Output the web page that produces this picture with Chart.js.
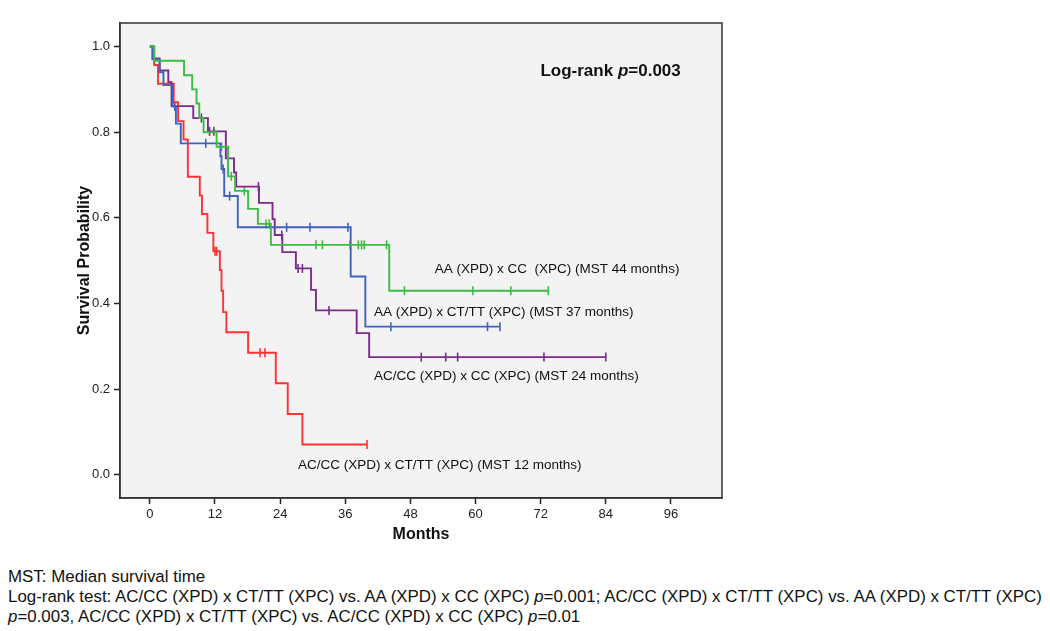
<!DOCTYPE html>
<html>
<head>
<meta charset="utf-8">
<script src="https://cdn.jsdelivr.net/npm/chart.js@4.4.1/dist/chart.umd.min.js"></script>
<style>
  body { margin: 0; background: #fff; }
  #wrap { position: relative; width: 1050px; height: 631px; }
  #box { position: absolute; left: 0; top: 0; width: 1050px; height: 560px; }
  .note { position: absolute; left: 8px; font-family: 'Liberation Sans Narrow', 'Arial Narrow', 'Liberation Sans', Arial, sans-serif; font-size: 16.9px; color: #111; white-space: nowrap; }
</style>
</head>
<body>
<div id="wrap">
  <div id="box"><canvas id="km"></canvas></div>
  <div class="note" style="top:567px">MST: Median survival time</div>
  <div class="note" style="top:587px">Log-rank test: AC/CC (XPD) x CT/TT (XPC) vs. AA (XPD) x CC (XPC) <i>p</i>=0.001; AC/CC (XPD) x CT/TT (XPC) vs. AA (XPD) x CT/TT (XPC)</div>
  <div class="note" style="top:607px"><i>p</i>=0.003, AC/CC (XPD) x CT/TT (XPC) vs. AC/CC (XPD) x CC (XPC) <i>p</i>=0.01</div>
</div>
<script>
// curvas Kaplan-Meier (meses, supervivencia)
const xTicks = [0, 12, 24, 36, 48, 60, 72, 84, 96];
const yTicks = [0, 0.2, 0.4, 0.6, 0.8, 1.0];

const greenT = [0, 0.8, 6.3, 7.8, 8.6, 9.1, 9.9, 12.3, 14.4, 15.7, 18.1, 19.9, 22.3, 44.1, 73.4];
const greenS = [1, 0.967, 0.933, 0.9, 0.867, 0.833, 0.80, 0.766, 0.697, 0.663, 0.621, 0.586, 0.537, 0.43, 0.43];
const greenCens = [13.2, 15.0, 17.4, 21.4, 22.0, 30.6, 31.8, 36.9, 38.4, 39.0, 39.5, 43.6, 46.9, 59.5, 66.5, 73.4];

const blueT = [0, 0.5, 1.8, 2.5, 4.2, 4.8, 5.7, 13.0, 13.2, 13.7, 16.2, 37.0, 39.7, 64.5];
const blueS = [1, 0.97, 0.94, 0.91, 0.86, 0.82, 0.774, 0.744, 0.714, 0.651, 0.578, 0.463, 0.346, 0.346];
const blueCens = [4.6, 10.3, 13.5, 14.7, 25.2, 29.5, 36.5, 44.4, 62.2, 64.5];

const purpleT = [0, 0.5, 1.8, 3.4, 4.0, 8.0, 10.7, 14.0, 15.5, 15.9, 20.1, 22.6, 23.0, 24.4, 26.9, 29.7, 30.6, 38.1, 40.4, 84];
const purpleS = [1, 0.972, 0.944, 0.917, 0.861, 0.833, 0.802, 0.739, 0.706, 0.673, 0.635, 0.597, 0.56, 0.52, 0.482, 0.432, 0.384, 0.331, 0.275, 0.275];
const purpleCens = [9.5, 11.0, 11.8, 20.0, 24.3, 27.3, 28.1, 33.0, 50.0, 54.5, 56.7, 72.6, 84];

const redT = [0, 0.8, 1.5, 4.4, 5.2, 6.2, 7.0, 9.2, 9.6, 10.6, 11.7, 12.9, 13.2, 13.5, 14.1, 18.1, 23.2, 25.4, 28.1, 40];
const redS = [1, 0.957, 0.913, 0.87, 0.826, 0.783, 0.696, 0.652, 0.609, 0.565, 0.522, 0.478, 0.43, 0.38, 0.333, 0.285, 0.214, 0.142, 0.071, 0.071];
const redCens = [12.0, 12.3, 20.3, 21.2, 40];

const curveLabels = [
  { text: 'AA (XPD) x CC  (XPC) (MST 44 months)', x: 52.5, y: 0.481 },
  { text: 'AA (XPD) x CT/TT (XPC) (MST 37 months)', x: 41.3, y: 0.380 },
  { text: 'AC/CC (XPD) x CC (XPC) (MST 24 months)', x: 41.3, y: 0.231 },
  { text: 'AC/CC (XPD) x CT/TT (XPC) (MST 12 months)', x: 27.3, y: 0.023 }
];

const FONT = "Arial, 'Liberation Sans', sans-serif";

function valorEn(T, S, t) {
  let v = S[0];
  for (let i = 0; i < T.length; i++) if (T[i] <= t) v = S[i];
  return v;
}

function curva(T, S, color) {
  return {
    data: T.map((t, i) => ({ x: t, y: S[i] })),
    borderColor: color, borderWidth: 1.9, stepped: 'before',
    pointRadius: 0, fill: false
  };
}

function censuras(T, S, C, color) {
  return {
    data: C.map(t => ({ x: t, y: valorEn(T, S, t) })),
    showLine: false, borderColor: color, backgroundColor: color,
    pointStyle: 'line', rotation: 90, pointRadius: 4.5, borderWidth: 1.6
  };
}

const fondo = {
  id: 'fondo',
  beforeDraw(chart) {
    const { ctx, chartArea: a } = chart;
    ctx.save();
    ctx.fillStyle = '#f3f3f3';
    ctx.fillRect(a.left, a.top, a.right - a.left, a.bottom - a.top);
    ctx.restore();
  },
  afterDraw(chart) {
    const { ctx, chartArea: a, scales } = chart;
    ctx.save();
    ctx.strokeStyle = '#333';
    ctx.lineWidth = 1.5;
    ctx.strokeRect(a.left, a.top, a.right - a.left, a.bottom - a.top);

    ctx.fillStyle = '#111';
    ctx.textBaseline = 'middle';
    ctx.font = '13.5px ' + FONT;
    ctx.textAlign = 'left';
    curveLabels.forEach(l => {
      ctx.fillText(l.text, scales.x.getPixelForValue(l.x), scales.y.getPixelForValue(l.y));
    });

    // Log-rank p
    ctx.font = 'bold 17px ' + FONT;
    const px = scales.x.getPixelForValue(97.8), py = scales.y.getPixelForValue(0.943);
    const t3 = '=0.003';
    const w3 = ctx.measureText(t3).width;
    ctx.textAlign = 'right';
    ctx.fillText(t3, px, py);
    ctx.font = 'italic bold 17px ' + FONT;
    const w2 = ctx.measureText('p').width;
    ctx.fillText('p', px - w3, py);
    ctx.font = 'bold 17px ' + FONT;
    ctx.fillText('Log-rank ', px - w3 - w2, py);

    // títulos de ejes
    ctx.font = 'bold 16px ' + FONT;
    ctx.textAlign = 'center';
    ctx.fillText('Months', (a.left + a.right) / 2, 535);
    ctx.translate(85, (a.top + a.bottom) / 2);
    ctx.rotate(-Math.PI / 2);
    ctx.fillText('Survival Probability', 0, 0);
    ctx.restore();
  }
};

new Chart(document.getElementById('km'), {
  type: 'line',
  data: {
    datasets: [
      curva(greenT, greenS, '#3cbc44'),
      curva(blueT, blueS, '#4262c0'),
      curva(purpleT, purpleS, '#7a2b8c'),
      curva(redT, redS, '#ff3232'),
      censuras(greenT, greenS, greenCens, '#3cbc44'),
      censuras(blueT, blueS, blueCens, '#4262c0'),
      censuras(purpleT, purpleS, purpleCens, '#7a2b8c'),
      censuras(redT, redS, redCens, '#ff3232')
    ]
  },
  options: {
    responsive: true,
    maintainAspectRatio: false,
    animation: false,
    layout: { padding: { top: 23, right: 328, left: 0, bottom: 0 } },
    plugins: { legend: { display: false }, tooltip: { enabled: false } },
    scales: {
      x: {
        type: 'linear', min: -5.5, max: 105.4,
        afterBuildTicks: s => { s.ticks = xTicks.map(v => ({ value: v })); },
        afterFit: s => { s.height = 62; },
        ticks: { font: { size: 13, family: FONT }, color: '#222', padding: 3, maxRotation: 0 },
        grid: { drawOnChartArea: false, drawTicks: true, tickLength: 6, color: '#222', tickWidth: 1.5 },
        border: { display: true, color: '#333', width: 1.5 }
      },
      y: {
        type: 'linear', min: -0.054, max: 1.055,
        afterBuildTicks: s => { s.ticks = yTicks.map(v => ({ value: v })); },
        afterFit: s => { s.width = 120; },
        ticks: { font: { size: 13, family: FONT }, color: '#222', padding: 4, callback: v => v.toFixed(1) },
        grid: { drawOnChartArea: false, drawTicks: true, tickLength: 6, color: '#222', tickWidth: 1.5 },
        border: { display: true, color: '#333', width: 1.5 }
      }
    }
  },
  plugins: [fondo]
});
</script>
</body>
</html>
